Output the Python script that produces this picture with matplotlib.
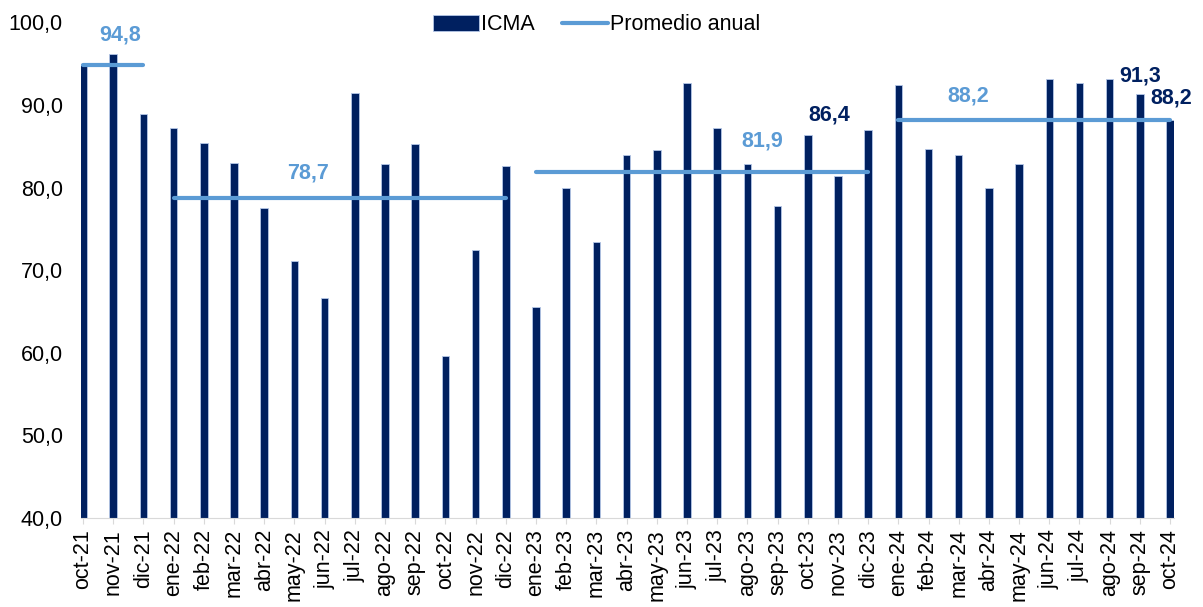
import numpy as np
import matplotlib
matplotlib.use('Agg')
import matplotlib.pyplot as plt

plt.rcParams['font.family'] = ['Liberation Sans', 'DejaVu Sans']

months = ['oct-21', 'nov-21', 'dic-21',
          'ene-22', 'feb-22', 'mar-22', 'abr-22', 'may-22', 'jun-22',
          'jul-22', 'ago-22', 'sep-22', 'oct-22', 'nov-22', 'dic-22',
          'ene-23', 'feb-23', 'mar-23', 'abr-23', 'may-23', 'jun-23',
          'jul-23', 'ago-23', 'sep-23', 'oct-23', 'nov-23', 'dic-23',
          'ene-24', 'feb-24', 'mar-24', 'abr-24', 'may-24', 'jun-24',
          'jul-24', 'ago-24', 'sep-24', 'oct-24']

icma = [94.9, 96.2, 88.9,
        87.2, 85.4, 83.0, 77.5, 71.1, 66.6, 91.5, 82.8, 85.3, 59.6, 72.5, 82.6,
        65.6, 80.0, 73.4, 84.0, 84.6, 92.7, 87.2, 82.8, 77.8, 86.4, 81.4, 87.0,
        92.4, 84.7, 84.0, 80.0, 82.8, 93.1, 92.7, 93.1, 91.3, 88.2]

# annual averages: (first month index, last month index, value)
avg_start = [0, 3, 15, 27]
avg_end = [2, 14, 26, 36]
avg_value = [94.8, 78.7, 81.9, 88.2]
avg_label_x = [1.23, 7.45, 22.5, 29.3]
avg_label_dy = [3.7, 3.1, 3.7, 2.9]

# highlighted bar values
hl_idx = [24, 35, 36]
hl_dx = [0.7, 0.0, 0.05]
hl_dy = [2.4, 2.2, 2.6]

navy = '#002060'
light = '#5b9bd5'
fs = 15.5

fig = plt.figure(figsize=(12.03, 6.07), dpi=100)
ax = fig.add_axes([0.0673, 0.1466, 0.9086, 0.8165])

x = np.arange(len(months))
bars = ax.bar(x, np.array(icma) - 40, bottom=40, width=0.25, color=navy,
              edgecolor='#b4c6e7', linewidth=0.6, label='ICMA', zorder=2)

avg_line = None
for k in range(len(avg_value)):
    ln, = ax.plot([avg_start[k], avg_end[k]], [avg_value[k]] * 2, color=light,
                  linewidth=3, solid_capstyle='round', zorder=3)
    if avg_line is None:
        avg_line = ln
    ax.text(avg_label_x[k], avg_value[k] + avg_label_dy[k],
            f'{avg_value[k]:.1f}'.replace('.', ','), color=light,
            fontsize=fs, fontweight='bold', ha='center', va='center', zorder=4)

for k, i in enumerate(hl_idx):
    ax.text(i + hl_dx[k], icma[i] + hl_dy[k], f'{icma[i]:.1f}'.replace('.', ','),
            color=navy, fontsize=fs, fontweight='bold', ha='center', va='center',
            zorder=4)

ax.set_xlim(-0.07, 36.13)
ax.set_ylim(40, 100)
ax.set_yticks(np.arange(40, 101, 10))
ax.set_yticklabels([f'{v:.1f}'.replace('.', ',') for v in np.arange(40, 101, 10)])
ax.set_xticks(x)
ax.set_xticklabels(months, rotation=90)
ax.tick_params(axis='y', length=0, pad=13, labelsize=fs)
ax.tick_params(axis='x', length=4, color='#d9d9d9', pad=4, labelsize=fs)

for side in ['left', 'right', 'top']:
    ax.spines[side].set_visible(False)
ax.spines['bottom'].set_color('#d9d9d9')

fig.legend([bars, avg_line], ['ICMA', 'Promedio anual'], loc='center',
           bbox_to_anchor=(0.496, 1 - 25 / 607), ncol=2,
           frameon=False, fontsize=fs, handlelength=2.1, handleheight=0.75,
           columnspacing=1.3, handletextpad=0.1)

fig.savefig('out.png', dpi=100)
